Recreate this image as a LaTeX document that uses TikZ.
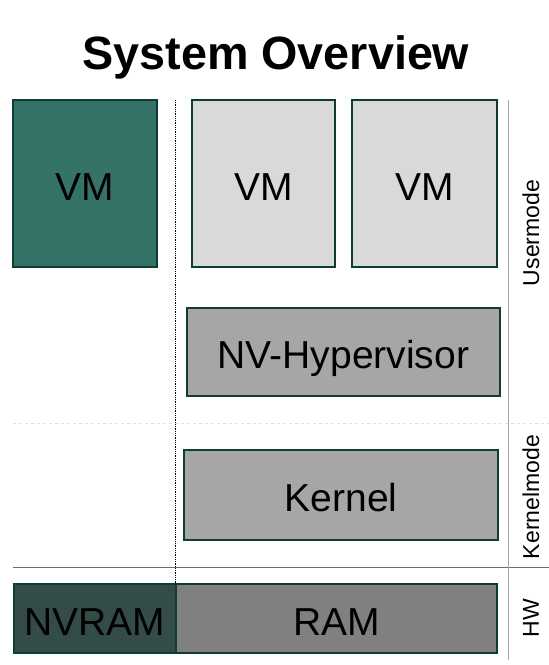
\documentclass[tikz,border=0pt]{standalone}
\usepackage{fontspec}
\setmainfont{Liberation Sans}
\begin{document}
\begin{tikzpicture}[x=1pt,y=-1pt,
  blk/.style={draw=borderc, line width=1.3pt, inner sep=0pt, text height=33pt, text depth=0pt, font=\fontsize{39}{41}\selectfont},
  side/.style={rotate=90, font=\fontsize{23}{25}\selectfont, inner sep=0pt}]
\definecolor{borderc}{HTML}{0E3D36}
\definecolor{vmdark}{HTML}{357369}
\definecolor{vmlight}{HTML}{D9D9D9}
\definecolor{midgray}{HTML}{A6A6A6}
\definecolor{nvram}{HTML}{344C48}
\definecolor{ramgray}{HTML}{808080}
\definecolor{linegray}{HTML}{6E6E6E}
\useasboundingbox (0,0) rectangle (549,665);
% guides
\draw[gray!25, dashed, line width=0.6pt] (13,423) -- (549,423);
\draw[linegray, line width=1pt] (13,567) -- (549,567);
\draw[gray!70, line width=1pt] (508,100) -- (508,660);
\draw[black, densely dotted, line width=0.8pt] (175,100) -- (175,584);
% title
\node[anchor=base, font=\bfseries\fontsize{46.7}{50}\selectfont, inner sep=0pt] (title) at (276,69) {System Overview};
% boxes
\node[blk, fill=vmdark, minimum width=144pt, minimum height=167pt] (vm1) at (85,183.5) {VM};
\node[blk, fill=vmlight, minimum width=143pt, minimum height=167pt] (vm2) at (263.5,183.5) {VM};
\node[blk, fill=vmlight, minimum width=145pt, minimum height=167pt] (vm3) at (424.5,183.5) {VM};
\node[blk, fill=midgray, minimum width=313pt, minimum height=88pt] (hyp) at (343.5,352) {NV-Hypervisor};
\node[blk, fill=midgray, minimum width=314pt, minimum height=90pt] (kern) at (341,495) {Kernel};
\node[blk, fill=nvram, minimum width=162pt, minimum height=69pt] (nvram) at (95,618.5) {NVRAM};
\node[blk, fill=ramgray, minimum width=321pt, minimum height=69pt] (ram) at (336.5,618.5) {RAM};
% side labels
\node[side] (um) at (531,233) {Usermode};
\node[side] (km) at (531,497) {Kernelmode};
\node[side] (hw) at (531,618) {HW};
\end{tikzpicture}
\end{document}
